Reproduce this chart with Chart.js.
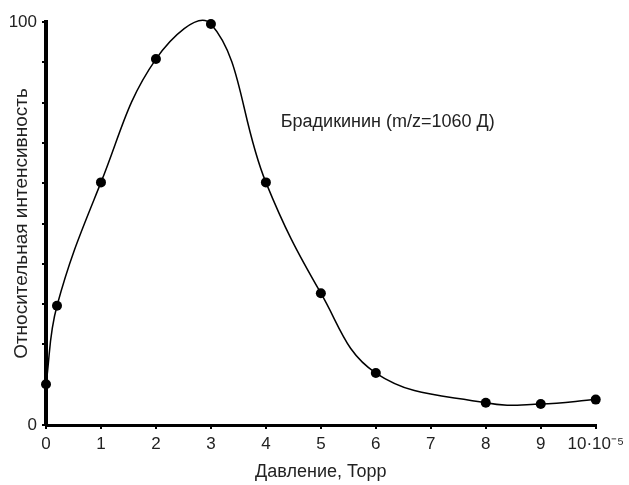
<!DOCTYPE html>
<html lang="ru">
<head>
    <meta charset="UTF-8">
    <title>Брадикинин</title>
    <script src="https://cdn.jsdelivr.net/npm/chart.js"></script>
    <style>
        html, body {
            margin: 0;
            padding: 0;
            background: #ffffff;
        }
        #wrap {
            width: 629px;
            height: 485px;
        }
    </style>
</head>
<body>
    <div id="wrap"><canvas id="chart" width="629" height="485"></canvas></div>

    <script>
        // давление (x10^-5 Торр) и относительная интенсивность
        const pressure = [0, 0.2, 1, 2, 3, 4, 5, 6, 8, 9, 10];
        const intensity = [10.1, 29.6, 60.2, 90.8, 99.5, 60.2, 32.7, 12.9, 5.5, 5.2, 6.3];
        const xTicks = [0, 1, 2, 3, 4, 5, 6, 7, 8, 9, 10];
        const yLabels = [0, 100];
        const seriesLabel = 'Брадикинин (m/z=1060 Д)';

        const FONT = '"Liberation Sans", Arial, sans-serif';

        // подпись серии внутри графика
        const labelPlugin = {
            id: 'seriesLabel',
            afterDraw(chart) {
                const ctx = chart.ctx;
                const x = chart.scales.x.getPixelForValue(4.27);
                const y = chart.scales.y.getPixelForValue(75.2);
                ctx.save();
                ctx.font = '18px ' + FONT;
                ctx.fillStyle = '#222';
                ctx.textAlign = 'left';
                ctx.textBaseline = 'middle';
                ctx.fillText(seriesLabel, x, y);
                ctx.restore();
            }
        };

        new Chart(document.getElementById('chart'), {
            type: 'line',
            data: {
                datasets: [{
                    label: seriesLabel,
                    data: pressure.map((p, i) => ({ x: p, y: intensity[i] })),
                    borderColor: '#000',
                    backgroundColor: '#000',
                    borderWidth: 1.5,
                    tension: 0.4,
                    capBezierPoints: false, // кривая выходит выше 100 у пика
                    pointRadius: 5,
                    pointHoverRadius: 5,
                    pointBackgroundColor: '#000',
                    pointBorderWidth: 0,
                    clip: false
                }]
            },
            options: {
                responsive: false,
                animation: false,
                layout: {
                    padding: { left: 0, right: 30, top: 22, bottom: 0 }
                },
                plugins: {
                    legend: { display: false },
                    tooltip: { enabled: false }
                },
                scales: {
                    x: {
                        type: 'linear',
                        min: 0,
                        max: 10,
                        afterBuildTicks(scale) {
                            scale.ticks = xTicks.map(v => ({ value: v }));
                        },
                        afterFit(scale) {
                            scale.height = 60;
                        },
                        border: { color: '#000', width: 3 },
                        grid: {
                            drawOnChartArea: false,
                            drawTicks: true,
                            tickLength: 4,
                            color: '#000',
                            lineWidth: 2
                        },
                        ticks: {
                            padding: 5,
                            color: '#222',
                            maxRotation: 0,
                            autoSkip: false,
                            font: { family: FONT, size: 17 },
                            callback: v => v === 10 ? '10·10⁻⁵' : String(v)
                        },
                        title: {
                            display: true,
                            text: 'Давление, Торр',
                            color: '#222',
                            font: { family: FONT, size: 18 },
                            padding: { top: 2, bottom: 2 }
                        }
                    },
                    y: {
                        min: 0,
                        max: 100,
                        afterFit(scale) {
                            scale.width = 46;
                        },
                        border: { color: '#000', width: 4 },
                        grid: {
                            drawOnChartArea: false,
                            drawTicks: true,
                            tickLength: 4,
                            color: '#000',
                            lineWidth: 2
                        },
                        ticks: {
                            stepSize: 10,
                            padding: 5,
                            color: '#222',
                            font: { family: FONT, size: 17 },
                            callback: v => yLabels.includes(v) ? String(v) : ''
                        },
                        title: {
                            display: true,
                            text: 'Относительная интенсивность',
                            color: '#222',
                            font: { family: FONT, size: 19 },
                            padding: { top: 10, bottom: 0 }
                        }
                    }
                }
            },
            plugins: [labelPlugin]
        });
    </script>
</body>
</html>
